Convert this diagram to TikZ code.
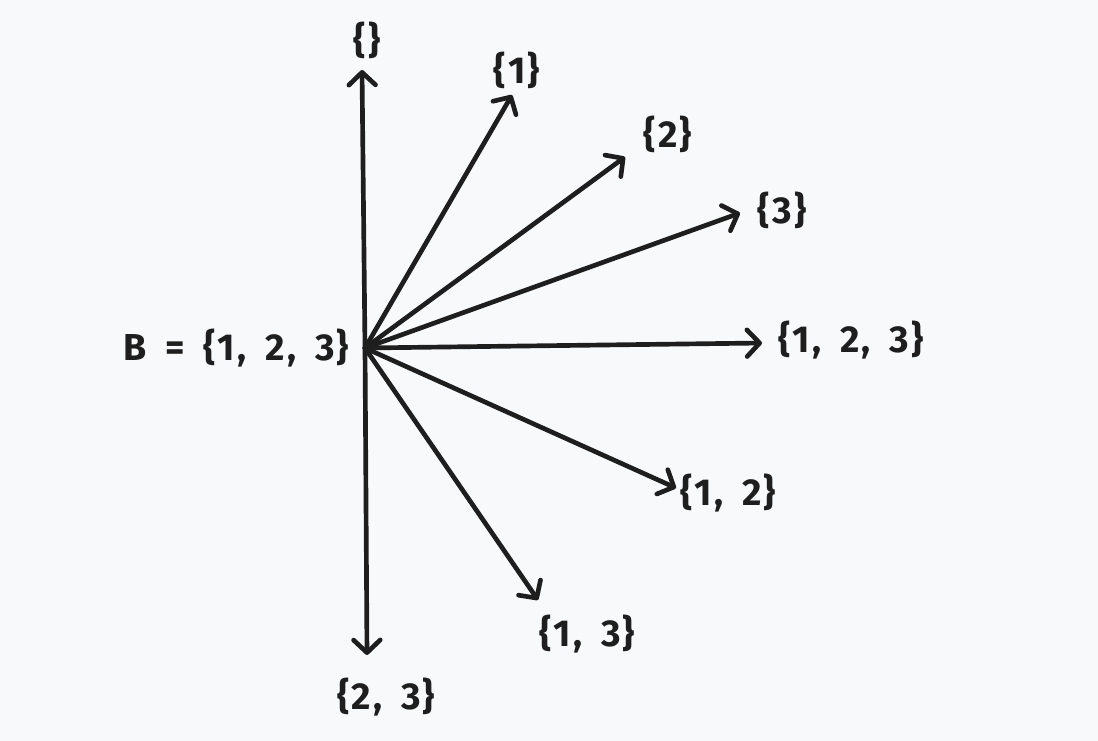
\documentclass[tikz,border=0pt]{standalone}
\usepackage{fontspec}
\setmainfont{Fira Sans}[LetterSpace=6,WordSpace=1.7]
\usetikzlibrary{arrows.meta}
\definecolor{paper}{HTML}{F8F9FB}
\definecolor{ink}{HTML}{1E1E1E}
\tikzset{
    set/.style={
           text=ink,
           inner sep=0pt,
           font=\fontsize{32}{38}\selectfont\bfseries,
           },
    edge/.style={
           draw=ink,
           line width=0.14cm,
           line cap=round,
           },
}

\begin{document}
\begin{tikzpicture}[x=0.03cm,y=-0.03cm,->,>={Straight Barb[length=0.38cm,width=0.8cm,round]}]

 % background and margins of the page
 \fill[paper] (0,0) rectangle (1098,741);

 % the set B and the point all arrows start from
 \node[set] (B) at (236,348) {B = \{1, 2, 3\}};
 \coordinate (o) at (365,348);

 % subsets, one label per arrow
 \node[set] (empty) at (367,40)  {\{\}};
 \node[set] (s1)    at (517,70)  {\{1\}};
 \node[set] (s2)    at (668,134) {\{2\}};
 \node[set] (s3)    at (782,210) {\{3\}};
 \node[set] (s123)  at (851,340) {\{1, 2, 3\}};
 \node[set] (s12)   at (728,493) {\{1, 2\}};
 \node[set] (s13)   at (587,634) {\{1, 3\}};
 \node[set] (s23)   at (386,697) {\{2, 3\}};

 % tips of the arrows
 \coordinate (tempty) at (362,70);
 \coordinate (t1)     at (512,95);
 \coordinate (t2)     at (625,157);
 \coordinate (t3)     at (740,213);
 \coordinate (t123)   at (762,343);
 \coordinate (t12)    at (676,488);
 \coordinate (t13)    at (538,600);
 \coordinate (t23)    at (367,655);

 % draw the arrows
 \foreach \t in {tempty,t1,t2,t3,t123,t12,t13,t23}
   \draw[edge] (o) -- (\t);
\end{tikzpicture}
\end{document}
